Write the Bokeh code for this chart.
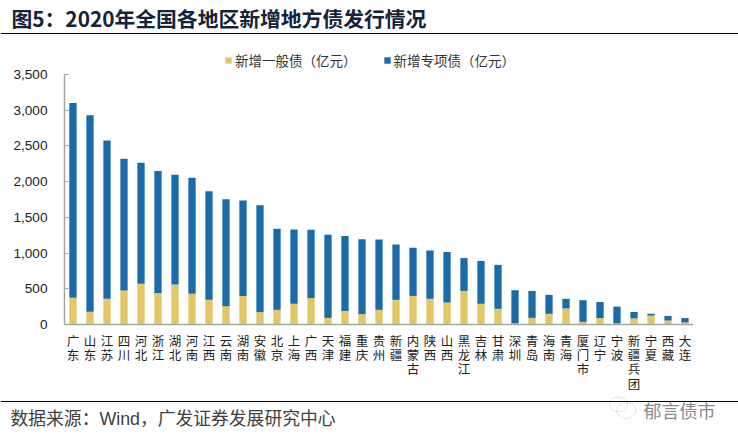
import numpy as np
from bokeh.plotting import figure
from bokeh.models import Range1d, Label, BoxAnnotation, PolyAnnotation, NumeralTickFormatter, FixedTicker, Legend, LegendItem
from bokeh.embed import file_html
from bokeh.resources import INLINE

regions = ["广东","山东","江苏","四川","河北","浙江","湖北","河南","江西","云南","湖南","安徽","北京","上海","广西","天津","福建","重庆","贵州","新疆","内蒙古","陕西","山西","黑龙江","吉林","甘肃","深圳","青岛","海南","青海","厦门市","辽宁","宁波","新疆兵团","宁夏","西藏","大连"]
general = [373,178,360,476,570,440,560,430,345,257,400,173,205,290,370,93,190,145,205,345,400,360,308,470,290,220,15,93,150,225,37,90,15,85,125,55,30]
special = [2727,2752,2215,1844,1695,1710,1535,1625,1520,1498,1335,1497,1135,1040,955,1162,1050,1050,985,775,675,675,707,460,600,615,465,377,265,135,303,225,235,90,25,65,60]
y_ticks = [0,500,1000,1500,2000,2500,3000,3500]
title = "图5：2020年全国各地区新增地方债发行情况"
source_note = "数据来源：Wind，广发证券发展研究中心"
watermark = "郁言债市"
general_name = "新增一般债（亿元）"
special_name = "新增专项债（亿元）"

CJK = "Noto Sans CJK SC"
W, H = 738, 441
L, R, T, BOT = 64, 693, 74, 324   # axis box edges in picture pixels
n = len(regions)
x_unit = (R - L) / n
y_unit = 3500 / (BOT - T)
xs = [i + 0.5 for i in range(n)]

# The frame fills the whole canvas so that title, rules and notes are not clipped;
# the axes sit at fixed data locations and are bounded to the plotted span.
p = figure(width=W, height=H, output_backend="svg", toolbar_location=None,
           x_range=Range1d(-L / x_unit, n + (W - R) / x_unit),
           y_range=Range1d(-(H - BOT) * y_unit, BOT * y_unit),
           min_border_left=0, min_border_right=0, min_border_top=0, min_border_bottom=0)
p.outline_line_color = None
p.background_fill_color = "white"
p.grid.visible = False

data = dict(x=xs, general=general, special=special)
r = p.vbar_stack(["general", "special"], x="x", width=0.43, source=data,
                 color=["#E3C766", "#1A6BA8"], line_color=None)

legend = Legend(items=[LegendItem(label=general_name, renderers=[r[0]]),
                       LegendItem(label=special_name, renderers=[r[1]])],
                orientation="horizontal", location=(224, 371),
                background_fill_alpha=0, border_line_color=None,
                glyph_width=8, glyph_height=8, label_standoff=3, spacing=26,
                padding=0, margin=0,
                label_text_font=CJK, label_text_font_size="13.5px", label_text_color="#333333")
p.add_layout(legend, "center")

ya = p.yaxis[0]
ya.fixed_location = 0
ya.bounds = (0, 3500)
ya.ticker = FixedTicker(ticks=y_ticks)
ya.formatter = NumeralTickFormatter(format="0,0")
ya.axis_line_color = "#A6A6A6"; ya.axis_line_width = 1.5
ya.major_tick_line_color = "#A6A6A6"; ya.major_tick_line_width = 1.2
ya.major_tick_in = 4; ya.major_tick_out = 0; ya.minor_tick_line_color = None
ya.major_label_text_font = "Liberation Sans"; ya.major_label_text_font_size = "13.6px"
ya.major_label_text_color = "#222222"; ya.major_label_standoff = 17

xa = p.xaxis[0]
xa.fixed_location = 0
xa.bounds = (0, n)
xa.ticker = FixedTicker(ticks=xs)
xa.major_label_overrides = {x: "\n".join(name) for x, name in zip(xs, regions)}
xa.axis_line_color = "#A6A6A6"; xa.axis_line_width = 1.5
xa.major_tick_line_color = None; xa.minor_tick_line_color = None
xa.major_label_orientation = "horizontal"
xa.major_label_text_font = CJK; xa.major_label_text_font_size = "12.5px"
xa.major_label_text_line_height = 0.76
xa.major_label_text_color = "#222222"; xa.major_label_standoff = 0

def text(x, y, s, size, color, font=CJK, style="normal"):
    p.add_layout(Label(x=x, y=H - y, x_units="screen", y_units="screen", text=s,
                       text_font=font, text_font_size=size, text_color=color,
                       text_font_style=style, text_baseline="middle", text_align="left"))

text(11, 17, title, "20.8px", "#14233C", style="bold")
text(10, 418, source_note, "17.8px", "#404040", font="Liberation Sans, " + CJK)
text(643, 409, watermark, "18px", "#8A8A8A")

for y in (33, 401):
    p.add_layout(BoxAnnotation(left=0, right=W, top=H - y + 0.6, bottom=H - y - 0.6,
                               left_units="screen", right_units="screen", top_units="screen", bottom_units="screen",
                               fill_color="black", fill_alpha=1, line_color=None, level="overlay"))

t = np.linspace(0, 2 * np.pi, 40)
for cx, cy, rx, ry in ((618, 404, 9, 7.5), (626, 410, 9.5, 8)):
    p.add_layout(PolyAnnotation(xs=list(cx + rx * np.cos(t)), ys=list(H - cy + ry * np.sin(t)),
                                xs_units="screen", ys_units="screen",
                                fill_alpha=0, line_color="#777777", line_width=1, line_dash="2 1"))

open("out.html", "w").write(file_html(p, INLINE))
